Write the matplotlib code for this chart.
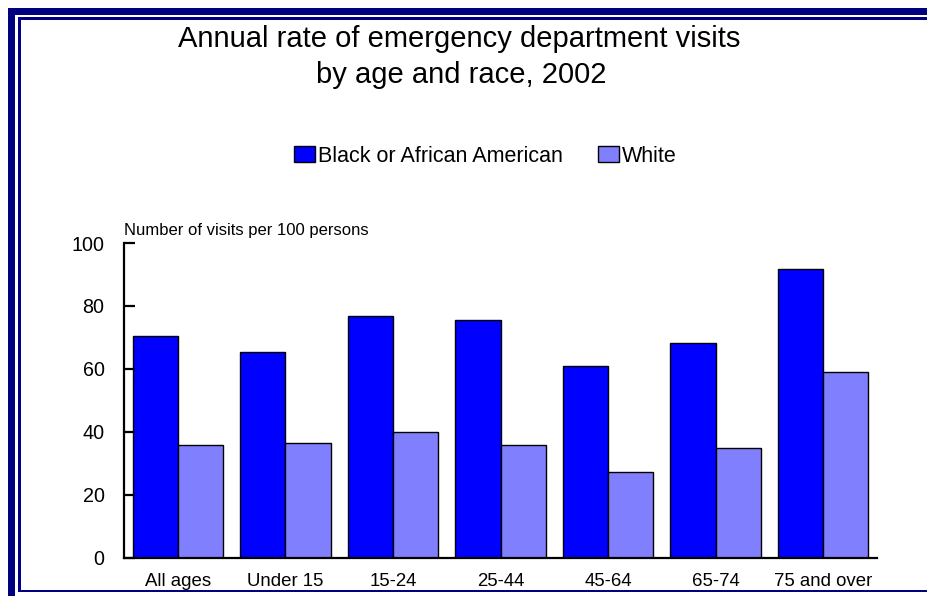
import matplotlib
matplotlib.use("Agg")
import matplotlib.pyplot as plt
from matplotlib.patches import Rectangle, Patch
import numpy as np

plt.rcParams['font.family'] = ['Liberation Sans', 'DejaVu Sans']

# Visits per 100 persons, 2002
age_groups = ['All ages', 'Under 15', '15-24', '25-44', '45-64', '65-74', '75 and over']
black_rate = [70.4, 65.4, 76.8, 75.5, 61.0, 68.1, 91.6]
white_rate = [35.8, 36.6, 39.9, 35.7, 27.1, 34.8, 59.0]
y_ticks = [0, 20, 40, 60, 80, 100]

W, H = 927, 596
fig = plt.figure(figsize=(W / 100, H / 100), dpi=100)

def frame_box(x0, y0, x1, y1, color):
    # pixel box measured from the top-left corner
    fig.add_artist(Rectangle((x0 / W, 1 - y1 / H), (x1 - x0) / W, (y1 - y0) / H,
                             transform=fig.transFigure, facecolor=color,
                             edgecolor='none', zorder=0))

navy = '#000080'
frame_box(8, 8, W, 15, navy)        # outer top band
frame_box(8, 8, 15, H, navy)        # outer left band
frame_box(18, 17, W, 19.5, navy)    # inner top line
frame_box(18, 17, 20.5, 592, navy)  # inner left line
frame_box(18, 589.5, W, 592, navy)  # inner bottom line

ax = fig.add_axes([124 / W, 1 - 557.7 / H, (877 - 124) / W, (557.7 - 243) / H])

x = np.arange(len(age_groups))
bw = 0.42
ax.bar(x - bw / 2, black_rate, width=bw, color='#0000ff', edgecolor='black', linewidth=1)
ax.bar(x + bw / 2, white_rate, width=bw, color='#8080ff', edgecolor='black', linewidth=1)

ax.set_xlim(-0.5, len(age_groups) - 0.5)
ax.set_ylim(0, 100)
ax.set_yticks(y_ticks)
ax.set_xticks(x)
ax.set_xticklabels(age_groups)
ax.tick_params(axis='y', direction='in', length=8, width=1.6, labelsize=14.2, pad=14)
ax.tick_params(axis='x', length=0, labelsize=13.4, pad=11)
for side in ['top', 'right']:
    ax.spines[side].set_visible(False)
ax.spines['left'].set_linewidth(1.6)
ax.spines['bottom'].set_linewidth(1.6)

ax.text(0, 1.017, 'Number of visits per 100 persons', transform=ax.transAxes,
        fontsize=12, ha='left', va='bottom')

fig.text(459 / W, 1 - 39 / H, 'Annual rate of emergency department visits',
         fontsize=21, ha='center', va='center')
fig.text(461 / W, 1 - 75 / H, 'by age and race, 2002',
         fontsize=21, ha='center', va='center')

handles = [Patch(facecolor='#0000ff', edgecolor='black', linewidth=1),
           Patch(facecolor='#8080ff', edgecolor='black', linewidth=1)]
fig.legend(handles, ['Black or African American', 'White'], loc='center',
           bbox_to_anchor=(485.5 / W, 1 - 156 / H), ncol=2, frameon=False,
           fontsize=15.5, handlelength=1.0, handleheight=0.75, handletextpad=0.14,
           columnspacing=1.6, borderpad=0, borderaxespad=0)

fig.savefig('out.png', dpi=100)
